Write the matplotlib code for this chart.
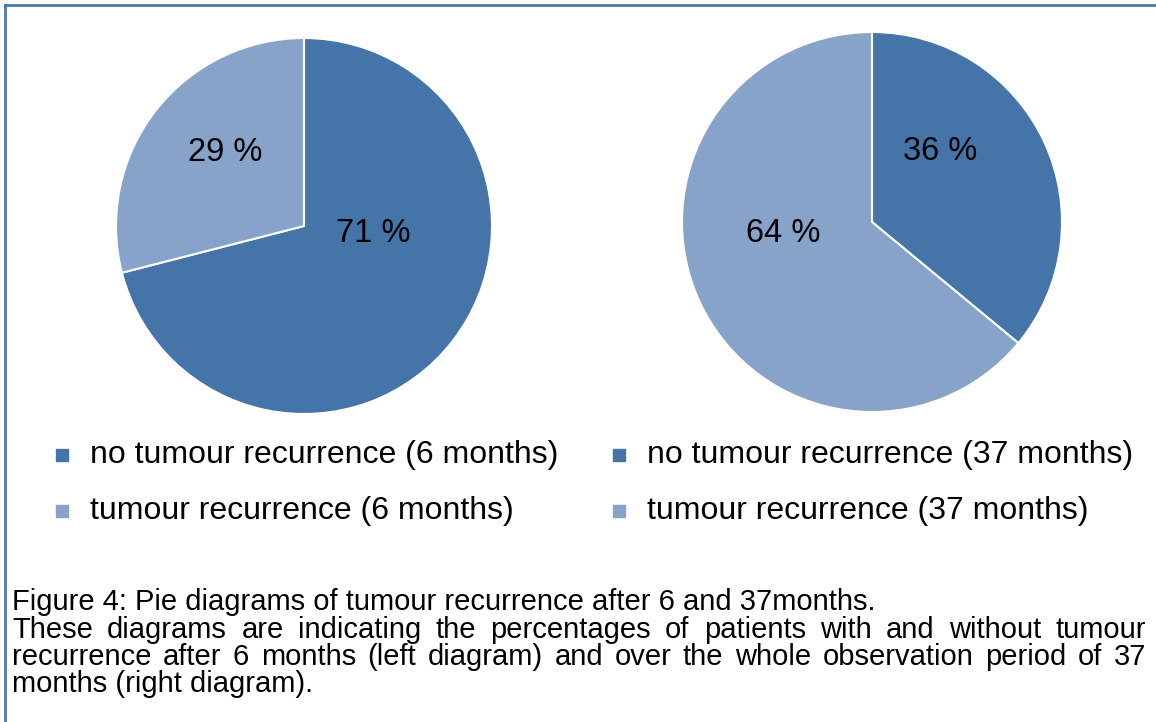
import matplotlib
matplotlib.use("Agg")
import matplotlib.pyplot as plt

plt.rcParams["font.family"] = ["Liberation Sans", "DejaVu Sans"]

# data
labels_6 = ["no tumour recurrence (6 months)", "tumour recurrence (6 months)"]
values_6 = [71, 29]
labels_37 = ["no tumour recurrence (37 months)", "tumour recurrence (37 months)"]
values_37 = [36, 64]
colors = ["#4574a8", "#88a3c9"]

caption_title = "Figure 4: Pie diagrams of tumour recurrence after 6 and 37months."
caption_lines = [
    "These diagrams are indicating the percentages of patients with and without tumour",
    "recurrence after 6 months (left diagram) and over the whole observation period of 37",
    "months (right diagram).",
]

W, H = 1156, 722
fig = plt.figure(figsize=(W / 100, H / 100), dpi=100)


def px(x, y):
    return x / W, 1 - y / H


def pie_axes(cx, cy, r):
    return fig.add_axes([(cx - r) / W, 1 - (cy + r) / H, 2 * r / W, 2 * r / H])


# label positions inside each pie (radius units)
label_pos_6 = [(0.37, -0.04), (-0.42, 0.39)]
label_pos_37 = [(0.36, 0.37), (-0.47, -0.06)]

for (cx, cy, r), vals, pos in [((304, 226, 188), values_6, label_pos_6),
                               ((872, 222, 190), values_37, label_pos_37)]:
    ax = pie_axes(cx, cy, r)
    ax.pie(vals, colors=colors, startangle=90, counterclock=False, radius=1,
           wedgeprops=dict(edgecolor="white", linewidth=1.5))
    for v, (x, y) in zip(vals, pos):
        ax.text(x, y, f"{v} %", ha="center", va="center", fontsize=23.5, color="black")
    ax.set_xlim(-1, 1)
    ax.set_ylim(-1, 1)
    ax.set_aspect("equal")
    ax.axis("off")

# legends
for x_m, labs in [(62, labels_6), (619, labels_37)]:
    for i, lab in enumerate(labs):
        y = 455 + i * 56
        fig.patches.append(plt.Rectangle(px(x_m - 6, y + 6), 12 / W, 12 / H,
                                         transform=fig.transFigure, color=colors[i]))
        fig.text(*px(x_m + 28, y), lab, fontsize=23, va="center", ha="left")

# border (top and left only)
fig.add_artist(plt.Line2D([5 / W, 1], [1 - 5 / H, 1 - 5 / H], color="#4a78b0", lw=2,
                          transform=fig.transFigure))
fig.add_artist(plt.Line2D([5 / W, 5 / W], [1 - 5 / H, 0], color="#4a78b0", lw=2,
                          transform=fig.transFigure))

# caption
cap_size = 21
fig.text(*px(12, 610), caption_title, fontsize=cap_size, va="baseline", ha="left")

renderer = fig.canvas.get_renderer()
x0, x1 = 12, 1146
for k, line in enumerate(caption_lines):
    yb = 637.5 + k * 27.5
    if k == len(caption_lines) - 1:
        fig.text(*px(x0, yb), line, fontsize=cap_size, va="baseline", ha="left")
        continue
    full = fig.text(*px(x0, yb), line, fontsize=cap_size, va="baseline", ha="left")
    natural = full.get_window_extent(renderer).width
    if natural >= x1 - x0:
        continue
    full.remove()
    words = line.split()
    texts = [fig.text(*px(x0, yb), w, fontsize=cap_size, va="baseline", ha="left")
             for w in words]
    widths = [t.get_window_extent(renderer).width for t in texts]
    gap = (x1 - x0 - sum(widths)) / (len(words) - 1)
    x = x0
    for t, w in zip(texts, widths):
        t.set_x(x / W)
        x += w + gap

fig.savefig("out.png", dpi=100)
